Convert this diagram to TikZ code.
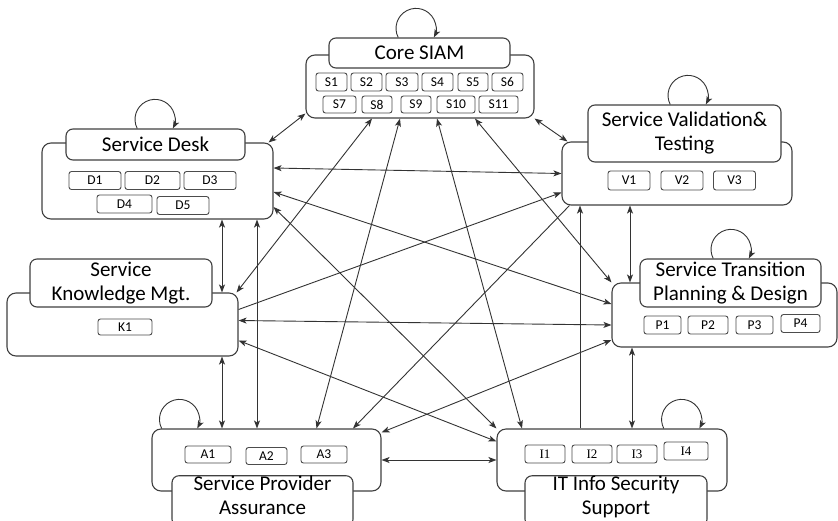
\documentclass[tikz,border=0pt]{standalone}
\usepackage{fontspec}
\setmainfont{Carlito}
\newfontfamily\itemserif{Liberation Serif}
\usetikzlibrary{arrows.meta}

\begin{document}
\begin{tikzpicture}[x=1pt,y=-1pt,
  >={Stealth[length=8pt,width=6pt,inset=2pt]},
  body/.style={draw=black!75,line width=1.1pt,rounded corners=9pt,fill=white,inner sep=0pt},
  title/.style={draw=black!75,line width=1.1pt,rounded corners=7pt,fill=white,inner sep=0pt,
    align=center,font=\fontsize{21}{24}\selectfont},
  item/.style={draw=black!70,line width=0.9pt,rounded corners=2.5pt,inner sep=0pt,
    minimum height=18pt,font=\fontsize{13.5}{14}\selectfont},
  link/.style={draw=black!80,line width=0.9pt,<->},
  oneway/.style={draw=black!80,line width=0.9pt,->},
  selfloop/.style={draw=black!80,line width=0.9pt,->},
]
\useasboundingbox (0,0) rectangle (838,520);

\node[body,minimum width=228pt,minimum height=63pt] (core) at (420,86.5) {};
\node[body,minimum width=231pt,minimum height=76pt] (desk) at (157.5,181) {};
\node[body,minimum width=230pt,minimum height=63pt] (valid) at (677,173.5) {};
\node[body,minimum width=231pt,minimum height=63pt] (know) at (122.5,324.5) {};
\node[body,minimum width=225pt,minimum height=64pt] (trans) at (724.5,315) {};
\node[body,minimum width=229pt,minimum height=62pt] (assur) at (266.5,460) {};
\node[body,minimum width=230pt,minimum height=62pt] (sec) at (612,460) {};

\node[title,minimum width=181pt,minimum height=30pt] (coretitle) at (419.5,53) {Core SIAM};
\node[title,minimum width=179pt,minimum height=31pt] (desktitle) at (155.5,144.5) {Service Desk};
\node[title,minimum width=193pt,minimum height=57pt] (validtitle) at (684.5,133.5) {Service Validation\&\\Testing};
\node[title,minimum width=182pt,minimum height=48pt] (knowtitle) at (121,283) {Service\\Knowledge Mgt.};
\node[title,minimum width=181pt,minimum height=48pt] (transtitle) at (730.5,283) {Service Transition\\Planning \& Design};
\node[title,minimum width=181pt,minimum height=46pt,text depth=12pt] (assurtitle) at (262.5,501) {Service Provider\\Assurance};
\node[title,minimum width=182pt,minimum height=46pt,text depth=12pt] (sectitle) at (616,501) {IT Info Security\\Support};

\foreach \n/\x/\w in {1/331.5/31,2/366.5/31,3/402/32,4/437.5/31,5/473/30,6/507.5/31}
  \node[item,minimum width=\w pt] (s\n) at (\x,82) {S\n};
\foreach \n/\x/\w in {7/339.5/33,8/377/30,9/416/30,10/456/38,11/498.5/39}
  \node[item,minimum width=\w pt,minimum height=17pt] (s\n) at (\x,104.5) {S\n};
\foreach \n/\x/\y/\w in {1/95/180.5/52,2/152.5/180.5/55,3/210/180.5/52,4/124.5/204/55,5/183/205.5/52}
  \node[item,minimum width=\w pt] (d\n) at (\x,\y) {D\n};
\foreach \n/\x in {1/629,2/682,3/734.5}
  \node[item,minimum width=42pt,minimum height=19pt] (v\n) at (\x,180.5) {V\n};
\node[item,minimum width=54pt,minimum height=16pt] (k1) at (125,327) {K1};
\foreach \n/\x/\y/\w in {1/662.5/325/37,2/708/325/40,3/754.5/325/37,4/800.5/323.5/39}
  \node[item,minimum width=\w pt] (p\n) at (\x,\y) {P\n};
\foreach \n/\x/\y/\w in {1/208/454.5/46,2/266.5/456/41,3/324/454.5/46}
  \node[item,minimum width=\w pt,minimum height=17pt] (a\n) at (\x,\y) {A\n};
\foreach \n/\x/\y/\w in {1/545/454/40,2/592/454/40,3/637/454/40,4/686/451/44}
  \node[item,minimum width=\w pt,font=\itemserif\fontsize{13}{14}\selectfont] (i\n) at (\x,\y) {I\n};

\draw[selfloop] ([xshift=-21.3pt]coretitle.north) arc[start angle=153,end angle=387,radius=20];
\draw[selfloop] ([xshift=-18.3pt]desktitle.north) arc[start angle=153,end angle=387,radius=20];
\draw[selfloop] ([xshift=-14.3pt]validtitle.north) arc[start angle=153,end angle=387,radius=20];
\draw[selfloop] ([xshift=-17.3pt]transtitle.north) arc[start angle=153,end angle=387,radius=20];
\draw[selfloop] ([xshift=10.2pt]assur.north west) arc[start angle=153,end angle=387,radius=20];
\draw[selfloop] ([xshift=-63.8pt]sec.north east) arc[start angle=153,end angle=387,radius=20];

\draw[link] ([yshift=5pt]core.south west) -- ([xshift=-5pt]desk.north east);
\draw[link] (core.south east) -- ([xshift=6pt]valid.north west);
\draw[link] ([yshift=13pt]desk.east) -- (valid.west);
\draw[oneway] ([yshift=15pt]know.east) -- ([yshift=-19pt]valid.west);
\draw[link] ([yshift=-11pt]desk.east) -- ([yshift=11pt]trans.west);
\draw[link] ([yshift=-26pt]desk.east) -- (sec.north west);
\draw[link] ([yshift=-16pt]know.east) -- ([yshift=-13pt]sec.north west);
\draw[link] ([xshift=64.5pt]desk.south) -- ([xshift=99.5pt]know.north);
\draw[link] ([xshift=99.5pt]desk.south) -- ([xshift=-9.5pt]assur.north);
\draw[link] ([xshift=99.5pt]know.south) -- ([xshift=-44.5pt]assur.north);
\draw[link] ([xshift=-48pt]core.south) -- ([xshift=-2pt]know.north east);
\draw[link] ([xshift=-20pt]core.south) -- ([xshift=50pt]assur.north);
\draw[link] ([xshift=17pt]core.south) -- ([xshift=-90pt]sec.north);
\draw[link] ([xshift=55pt]core.south) -- (trans.north west);
\draw[oneway] ([xshift=-32pt]sec.north) -- ([xshift=-97pt]valid.south);
\draw[link] ([xshift=-47pt]valid.south) -- ([xshift=-94.5pt]trans.north);
\draw[link] ([xshift=-92.5pt]trans.south) -- ([xshift=20pt]sec.north);
\draw[oneway] ([xshift=8pt]valid.south west) -- ([xshift=86.5pt]assur.north);
\draw[link] ([yshift=4pt]know.east) -- ([yshift=-10pt]trans.west);
\draw[link] ([yshift=-4pt]assur.north east) -- ([yshift=-25pt]trans.west);
\draw[link] (assur.east) -- (sec.west);
\end{tikzpicture}
\end{document}
